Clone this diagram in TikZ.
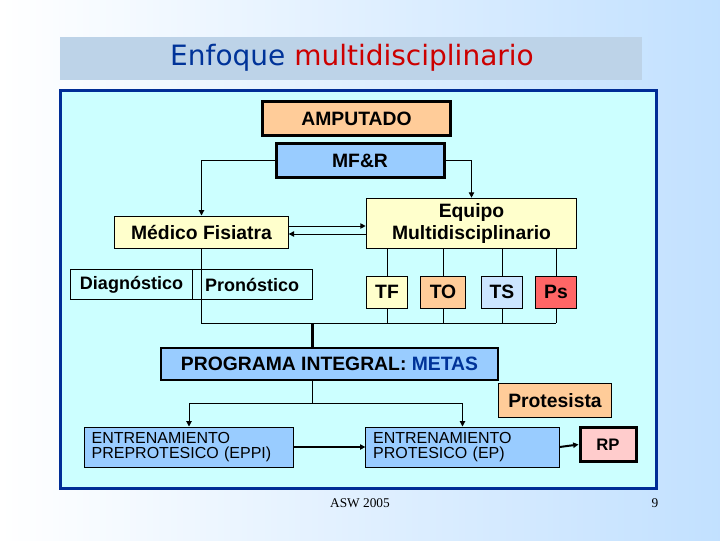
\documentclass[tikz,border=0pt]{standalone}
\usepackage{fontspec}
\setmainfont{Liberation Sans}
\newfontfamily\titlefont{DejaVu Sans}
\newfontfamily\timesfont{Liberation Serif}
\usetikzlibrary{arrows.meta}

\definecolor{panelfill}{RGB}{204,255,255}
\definecolor{panelline}{RGB}{0,45,150}
\definecolor{peach}{RGB}{255,204,153}
\definecolor{skyblue}{RGB}{153,204,255}
\definecolor{paleyellow}{RGB}{255,255,204}
\definecolor{paleblue}{RGB}{204,229,255}
\definecolor{salmon}{RGB}{255,102,102}
\definecolor{palepink}{RGB}{255,204,204}
\definecolor{titleblue}{RGB}{0,51,153}
\definecolor{titlered}{RGB}{204,0,0}

\tikzset{every picture/.style={line width=0.75pt}}
\tikzset{
  box/.style={draw, inner sep=0pt, align=center, font=\bfseries\fontsize{14.5}{16.5}\selectfont},
  thickbox/.style={box, line width=2.25pt},
  plainbox/.style={draw, inner sep=0pt, align=left, font=\fontsize{12}{11.5}\selectfont},
  arr/.style={-{Triangle[length=4pt,width=4pt]}},
}

\begin{document}
\begin{tikzpicture}[x=0.75pt,y=0.75pt,yscale=-1,xscale=1]
	%set diagram to the full slide
	\path [use as bounding box, left color=white, right color=skyblue!60] (0,0) rectangle (720,540);

	%Shape: Title bar
	\fill [fill=skyblue!70!gray!60] (60,37) rectangle (642,80);
	\node (title) at (352,58) {\titlefont\fontsize{21}{23}\selectfont\color{titleblue}Enfoque \color{titlered}multidisciplinario};

	%Shape: Panel
	\draw [line width=2.25pt, draw=panelline, fill=panelfill] (60,90) rectangle (656,488);

	% Boxes
	\node (amp) [thickbox, fill=peach, minimum width=141pt, minimum height=26pt] at (356.5,118.5) {AMPUTADO};
	\node (mfr) [thickbox, fill=skyblue, minimum width=126pt, minimum height=26pt] at (360,160.5) {MF\&R};
	\node (med) [box, fill=paleyellow, minimum width=130pt, minimum height=24pt] at (201.5,232) {Médico Fisiatra};
	\node (equ) [box, fill=paleyellow, minimum width=158pt, minimum height=38pt] at (471.5,223.5) {Equipo\\Multidisciplinario};
	\node (diag) [box, minimum width=91pt, minimum height=22pt, font=\bfseries\fontsize{13.5}{15}\selectfont] at (131.5,284.5) {Diagnóstico};
	\node (pron) [box, minimum width=90pt, minimum height=22pt, font=\bfseries\fontsize{13.5}{15}\selectfont] at (252,284.5) {Pronóstico};
	\node (tf) [box, fill=paleyellow, minimum width=31pt, minimum height=24pt] at (387,292) {TF};
	\node (to) [box, fill=peach, minimum width=34pt, minimum height=24pt] at (443,292) {TO};
	\node (ts) [box, fill=paleblue, minimum width=31pt, minimum height=24pt] at (502,292) {TS};
	\node (ps) [box, fill=salmon, minimum width=31pt, minimum height=24pt] at (556,292) {Ps};
	\node (prog) [box, line width=1.5pt, fill=skyblue, minimum width=253pt, minimum height=24pt] at (329.5,364) {PROGRAMA INTEGRAL: \color{titleblue}METAS};
	\node (prot) [box, fill=peach, minimum width=85pt, minimum height=25pt] at (555,400.5) {Protesista};
	\node (eppi) [plainbox, fill=skyblue, minimum width=157pt, minimum height=30pt, text width=146pt] at (189,447) {ENTRENAMIENTO\\PREPROTESICO (EPPI)};
	\node (ep) [plainbox, fill=skyblue, minimum width=145pt, minimum height=30pt, text width=134pt] at (462.5,447) {ENTRENAMIENTO\\PROTESICO (EP)};
	\node (rp) [thickbox, fill=palepink, minimum width=42pt, minimum height=26pt, font=\bfseries\fontsize{12.5}{14}\selectfont] at (608,444.5) {RP};

	% Connectors
	\draw [arr] (mfr.west) -| (med.north);
	\draw [arr] (mfr.east) -| (equ.north);
	\draw [arr] (med.east |- 0,226) -- (equ.west |- 0,226);
	\draw [arr] (equ.west |- 0,234) -- (med.east |- 0,234);
	\foreach \t in {tf,to,ts,ps} {
		\draw (equ.south -| \t) -- (\t.north);
		\draw (\t.south) -- (\t |- 0,323);
	}
	\coordinate (join) at (312,323);
	\draw (med.south) -- (med |- join) -- (ps |- join);
	\draw [line width=2.25pt] (join) -- (join |- prog.north);
	\coordinate (split) at (312,403);
	\draw (prog.south -| split) -- (split);
	\draw [arr] (split) -| (eppi.north);
	\draw [arr] (split) -| (ep.north);
	\draw [arr, line width=1.5pt] (eppi.east) -- (ep.west);
	\draw [arr, line width=1.5pt] (ep.east) -- (rp.west);

	% Text Node
	\node (foot) at (360,503) {\timesfont\fontsize{10}{12}\selectfont ASW 2005};
	% Text Node
	\node (page) at (655,503) {\timesfont\fontsize{10}{12}\selectfont 9};
\end{tikzpicture}
\end{document}
